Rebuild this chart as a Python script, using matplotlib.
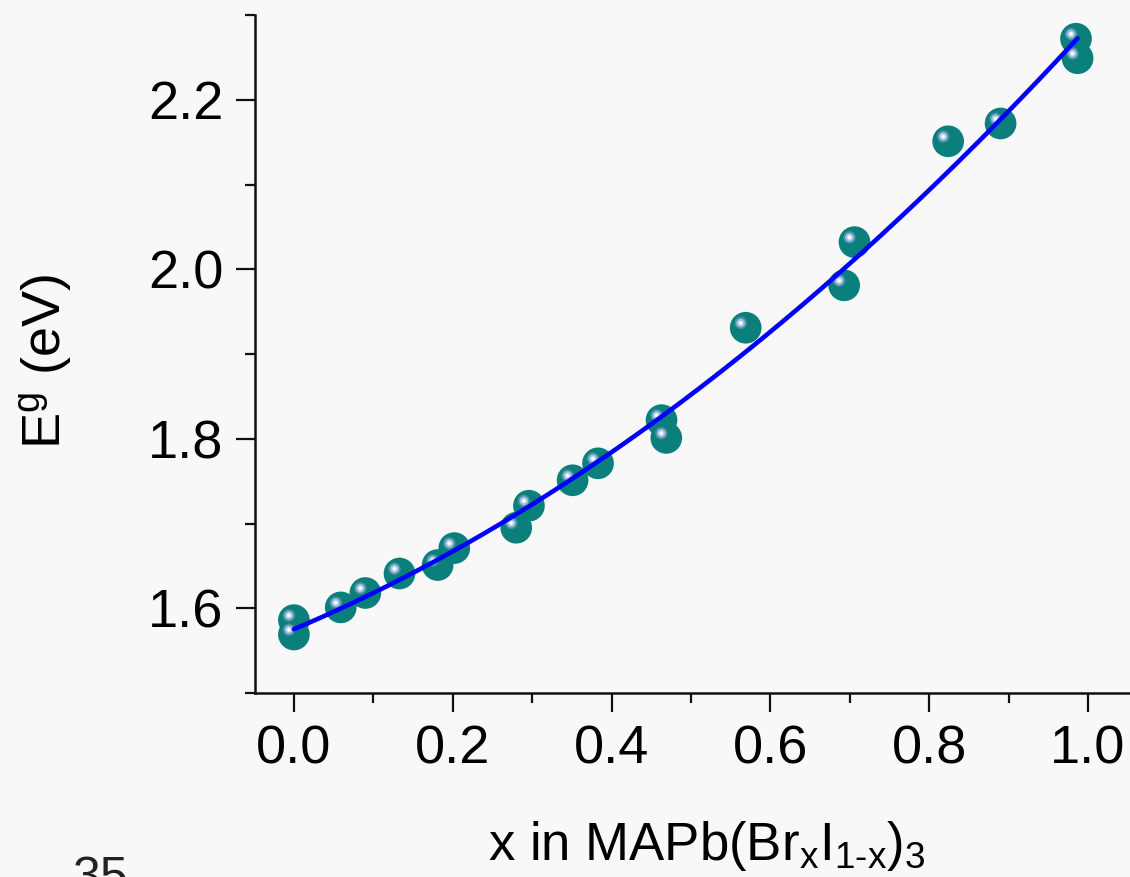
import matplotlib
matplotlib.use("Agg")
import matplotlib.pyplot as plt
import matplotlib.transforms as mtransforms
from matplotlib.ticker import MultipleLocator
import numpy as np

# band gap vs Br fraction
x_br = [0.0, 0.0, 0.059, 0.090, 0.133, 0.181, 0.202, 0.280, 0.296, 0.351, 0.383,
        0.463, 0.469, 0.569, 0.693, 0.706, 0.824, 0.890, 0.985, 0.987]
eg = [1.586, 1.569, 1.601, 1.618, 1.641, 1.651, 1.671, 1.695, 1.721, 1.751, 1.771,
      1.822, 1.801, 1.931, 1.981, 2.032, 2.151, 2.172, 2.272, 2.249]

xticks = [0.0, 0.2, 0.4, 0.6, 0.8, 1.0]
yticks = [1.6, 1.8, 2.0, 2.2]

plt.rcParams['font.family'] = ['Liberation Sans', 'DejaVu Sans']
plt.rcParams['mathtext.fontset'] = 'custom'
plt.rcParams['mathtext.rm'] = 'Liberation Sans'
plt.rcParams['mathtext.it'] = 'Liberation Sans:italic'

bg = '#f8f8f8'
W, H = 1130, 877
fig = plt.figure(figsize=(W / 100, H / 100), dpi=100, facecolor=bg)
ax = fig.add_axes([255 / W, (H - 693) / H, (W - 255) / W, (693 - 15) / H])
ax.set_facecolor(bg)

# quadratic (bowing) fit through the points
coef = np.polyfit(x_br, eg, 2)
xf = np.linspace(min(x_br), max(x_br), 200)
ax.plot(xf, np.polyval(coef, xf), color='#0000ff', lw=3.3, zorder=5,
        solid_capstyle='round')

# shaded "sphere" markers: teal base plus a light highlight up-left
ax.scatter(x_br, eg, s=520, color='#0a7f7b', edgecolors='none', zorder=3)
hl = mtransforms.offset_copy(ax.transData, fig=fig, x=-3.6, y=3.4, units='points')
ax.scatter(x_br, eg, s=80, color='#4f93a8', edgecolors='none', zorder=3.1,
           transform=hl, alpha=0.9)
ax.scatter(x_br, eg, s=40, color='#9dbfe0', edgecolors='none', zorder=3.2,
           transform=hl)
ax.scatter(x_br, eg, s=10, color='#f4f8ff', edgecolors='none', zorder=3.3,
           transform=hl)

ax.set_xlim(-0.049, 1.053)
ax.set_ylim(1.5, 2.3)
ax.set_xticks(xticks)
ax.set_yticks(yticks)
ax.set_xticklabels([f'{v:.1f}' for v in xticks])
ax.set_yticklabels([f'{v:.1f}' for v in yticks])
ax.xaxis.set_minor_locator(MultipleLocator(0.1))
ax.yaxis.set_minor_locator(MultipleLocator(0.1))

for s in ['top', 'right']:
    ax.spines[s].set_visible(False)
for s in ['left', 'bottom']:
    ax.spines[s].set_linewidth(1.8)
    ax.spines[s].set_color('#111111')

ax.tick_params(which='major', direction='out', length=13.5, width=1.6,
               labelsize=39, color='#111111')
ax.tick_params(which='minor', direction='out', length=7, width=1.6, color='#111111')
ax.tick_params(axis='y', which='major', pad=9)
ax.tick_params(axis='x', which='major', pad=9)

fig.text(707 / W, 1 - 860 / H,
         r'x in MAPb(Br$_{\mathregular{x}}$I$_{\mathregular{1\text{-}x}}$)$_{\mathregular{3}}$',
         ha='center', va='baseline', fontsize=38)
fig.text(47 / W, 1 - 362 / H, r'E$^{\mathregular{g}}$ (eV)', rotation=90,
         ha='center', va='center', fontsize=39)
fig.text(100 / W, 1 - 856 / H, '35', ha='center', va='top', fontsize=36,
         color='#222222')

fig.savefig('out.png', dpi=100, facecolor=bg)
